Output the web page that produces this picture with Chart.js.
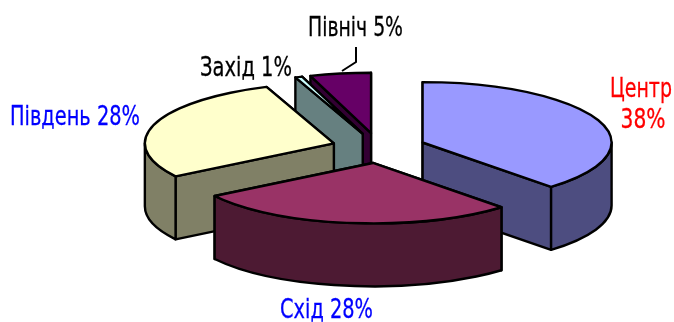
<!DOCTYPE html>
<html>
<head>
<meta charset="utf-8">
<script src="https://cdn.jsdelivr.net/npm/chart.js@4/dist/chart.umd.min.js"></script>
<style>
html,body{margin:0;padding:0;background:#fff}
#wrap{width:674px;height:322px}
</style>
</head>
<body>
<div id="wrap"><canvas id="c" width="674" height="322"></canvas></div>
<script>
const categories = ["Центр", "Схід", "Південь", "Захід", "Північ"];
const values = [38.1, 27.7, 28.4, 0.6, 5.2];
const topColors = ["#9999FF", "#993366", "#FFFFCC", "#CCFFFF", "#660066"];
const sideColors = ["#4D4D80", "#4D1A33", "#808066", "#668080", "#330033"];
const labelColors = ["#FF0000", "#0000FF", "#0000FF", "#000000", "#000000"];
const labelLines = [["Центр", "38%"], ["Схід 28%"], ["Південь 28%"], ["Захід 1%"], ["Північ 5%"]];

const view = {cx: 378.7, cy: 148, rx: 189, ry: 60.4, depth: 63};
const labelBoxes = [
  [[610, 97, 62], [620.5, 128, 45]],
  [[280, 318, 93]],
  [[10, 125, 130]],
  [[200, 76, 92]],
  [[308, 36, 95]]
];
const leader = [[356, 47], [356, 62], [342, 71]];

const pie3d = {
  id: 'pie3d',
  beforeDatasetsDraw(chart) {
    const ctx = chart.ctx;
    const arcs = chart.getDatasetMeta(0).data;
    const items = arcs.map((arc, i) => {
      const p = arc.getProps(['x', 'y', 'startAngle', 'endAngle', 'outerRadius'], true);
      const mid = (p.startAngle + p.endAngle) / 2;
      const off = arc.options.offset;
      return {i, p, mid, ox: Math.cos(mid) * off, oy: Math.sin(mid) * off};
    });
    const r0 = items[0].p.outerRadius;
    const kx = view.rx / r0, ky = view.ry / r0;
    const toScreen = (it, a, r) => [
      view.cx + (it.ox + Math.cos(a) * r) * kx,
      view.cy + (it.oy + Math.sin(a) * r) * ky
    ];
    const ellipse = (it, dy, a, b, ccw) => {
      ctx.ellipse(view.cx + it.ox * kx, view.cy + it.oy * ky + dy,
        it.p.outerRadius * kx, it.p.outerRadius * ky, 0, a, b, ccw);
    };
    const paint = (fill) => {
      ctx.fillStyle = fill;
      ctx.fill();
      ctx.stroke();
    };
    ctx.save();
    ctx.lineWidth = 2.4;
    ctx.strokeStyle = '#000';
    ctx.lineJoin = 'round';
    items.slice().sort((a, b) => a.oy - b.oy).forEach(it => {
      const {startAngle: s, endAngle: e, outerRadius: r} = it.p;
      const d = view.depth;
      const apex = toScreen(it, 0, 0);
      const side = sideColors[it.i];
      [s, e].map(a => toScreen(it, a, r))
        .sort((u, v) => u[1] - v[1])
        .forEach(pt => {
          ctx.beginPath();
          ctx.moveTo(apex[0], apex[1]);
          ctx.lineTo(pt[0], pt[1]);
          ctx.lineTo(pt[0], pt[1] + d);
          ctx.lineTo(apex[0], apex[1] + d);
          ctx.closePath();
          paint(side);
        });
      const from = Math.max(s, 0), to = Math.min(e, Math.PI);
      if (to > from) {
        ctx.beginPath();
        ellipse(it, 0, from, to, false);
        ellipse(it, d, to, from, true);
        ctx.closePath();
        paint(side);
      }
      ctx.beginPath();
      ctx.moveTo(apex[0], apex[1]);
      ellipse(it, 0, s, e, false);
      ctx.closePath();
      paint(topColors[it.i]);
    });
    ctx.restore();
    return false;
  },
  afterDraw(chart) {
    const ctx = chart.ctx;
    ctx.save();
    ctx.strokeStyle = '#000';
    ctx.lineWidth = 2;
    ctx.beginPath();
    leader.forEach((p, i) => i ? ctx.lineTo(p[0], p[1]) : ctx.moveTo(p[0], p[1]));
    ctx.stroke();
    ctx.font = '26px "DejaVu Sans"';
    ctx.textBaseline = 'alphabetic';
    ctx.textAlign = 'left';
    ctx.lineWidth = 0.3;
    labelLines.forEach((lines, i) => {
      ctx.fillStyle = labelColors[i];
      ctx.strokeStyle = labelColors[i];
      lines.forEach((t, j) => {
        const b = labelBoxes[i][j];
        ctx.fillText(t, b[0], b[1], b[2]);
        ctx.strokeText(t, b[0], b[1], b[2]);
      });
    });
    ctx.restore();
  }
};

new Chart(document.getElementById('c'), {
  type: 'pie',
  data: {
    labels: categories,
    datasets: [{
      data: values,
      backgroundColor: topColors,
      borderColor: '#000',
      borderWidth: 1,
      offset: 35.6
    }]
  },
  options: {
    responsive: false,
    animation: false,
    layout: {padding: 0},
    plugins: {legend: {display: false}, tooltip: {enabled: false}, title: {display: false}}
  },
  plugins: [pie3d]
});
</script>
</body>
</html>
